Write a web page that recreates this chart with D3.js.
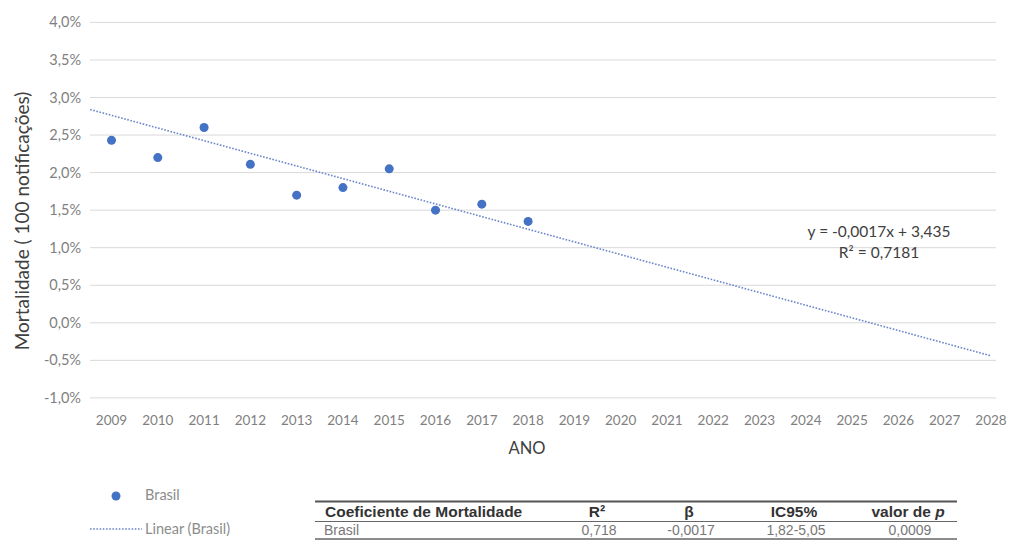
<!DOCTYPE html>
<html>
<head>
<meta charset="utf-8">
<script src="https://cdn.jsdelivr.net/npm/d3@7"></script>
<style>
  html, body { margin: 0; padding: 0; background: #fff; }
  svg { display: block; }
</style>
</head>
<body>
<svg id="chart" width="1011" height="540"></svg>
<script>
// ---- data ----
const years = [2009, 2010, 2011, 2012, 2013, 2014, 2015, 2016, 2017, 2018];
const mortality = [2.43, 2.20, 2.60, 2.11, 1.70, 1.80, 2.05, 1.50, 1.58, 1.35]; // %
const xTickLabels = [2009,2010,2011,2012,2013,2014,2015,2016,2017,2018,2019,2020,2021,2022,2023,2024,2025,2026,2027,2028];
const yTickValues = [-1.0,-0.5,0.0,0.5,1.0,1.5,2.0,2.5,3.0,3.5,4.0];
const trendYears = [2008.54, 2028];
const trendValues = [2.84, -0.44];
const equationLines = ["y = -0,0017x + 3,435", "R² = 0,7181"];
const tableHeader = ["Coeficiente de Mortalidade", "R²", "β", "IC95%", "valor de p"];
const tableRow = ["Brasil", "0,718", "-0,0017", "1,82-5,05", "0,0009"];

// ---- chart ----
const svg = d3.select("#chart");
const blue = "#4472C4";
const font = "Lato, 'Open Sans', sans-serif";

const x = d3.scaleLinear().domain([2009, 2028]).range([111.5, 991]);
const y = d3.scaleLinear().domain([-1, 4]).range([397.9, 22.4]);
const gridLeft = 90, gridRight = 996;

// gridlines
svg.append("g").selectAll("line").data(yTickValues).join("line")
  .attr("x1", gridLeft).attr("x2", gridRight)
  .attr("y1", d => y(d)).attr("y2", d => y(d))
  .attr("stroke", "#d9d9d9").attr("stroke-width", 1);

// y axis labels
const fmtPct = d => d3.format(".1f")(d).replace(".", ",").replace("−", "-") + "%";
svg.append("g").selectAll("text").data(yTickValues).join("text")
  .attr("x", 81).attr("y", d => y(d)).attr("dy", "0.35em")
  .attr("text-anchor", "end")
  .attr("font-family", font).attr("font-size", 14.5).attr("fill", "#7f7f7f")
  .text(fmtPct);

// x axis labels
svg.append("g").selectAll("text").data(xTickLabels).join("text")
  .attr("x", d => x(d)).attr("y", 425)
  .attr("text-anchor", "middle")
  .attr("font-family", font).attr("font-size", 13.5).attr("fill", "#7f7f7f")
  .text(d => d);

// axis titles
svg.append("text")
  .attr("x", 527).attr("y", 454)
  .attr("text-anchor", "middle")
  .attr("font-family", font).attr("font-size", 16.5).attr("fill", "#404040")
  .text("ANO");

svg.append("text")
  .attr("transform", "translate(29,221) rotate(-90)")
  .attr("text-anchor", "middle")
  .attr("font-family", font).attr("font-size", 19).attr("fill", "#404040")
  .text("Mortalidade ( 100 notificações)");

// trendline
svg.append("line")
  .attr("x1", x(trendYears[0])).attr("y1", y(trendValues[0]))
  .attr("x2", x(trendYears[1])).attr("y2", y(trendValues[1]))
  .attr("stroke", "#6a86c8").attr("stroke-width", 1.6)
  .attr("stroke-dasharray", "1.6,1.6");

// points
svg.append("g").selectAll("circle").data(years.map((yr, i) => [yr, mortality[i]])).join("circle")
  .attr("cx", d => x(d[0])).attr("cy", d => y(d[1]))
  .attr("r", 4.5).attr("fill", blue);

// equation
svg.append("g").selectAll("text").data(equationLines).join("text")
  .attr("x", 879).attr("y", (d, i) => 237 + i * 21)
  .attr("text-anchor", "middle")
  .attr("font-family", font).attr("font-size", 15.5).attr("fill", "#404040")
  .text(d => d);

// legend
svg.append("circle").attr("cx", 116).attr("cy", 496).attr("r", 4.5).attr("fill", blue);
svg.append("text").attr("x", 145).attr("y", 500)
  .attr("font-family", font).attr("font-size", 14.5).attr("fill", "#8c8c8c").text("Brasil");
svg.append("line").attr("x1", 90).attr("x2", 142).attr("y1", 529).attr("y2", 529)
  .attr("stroke", "#6a86c8").attr("stroke-width", 1.4).attr("stroke-dasharray", "1.6,1.6");
svg.append("text").attr("x", 145).attr("y", 534)
  .attr("font-family", font).attr("font-size", 14.5).attr("fill", "#8c8c8c").text("Linear (Brasil)");

// table
const tFont = "'Liberation Sans', Arial, sans-serif";
const tLeft = 315, tRight = 957;
const colX = [325, 597, 689, 794, 908];
svg.append("line").attr("x1", tLeft).attr("x2", tRight).attr("y1", 501.5).attr("y2", 501.5)
  .attr("stroke", "#555").attr("stroke-width", 2);
svg.append("line").attr("x1", tLeft).attr("x2", tRight).attr("y1", 521.5).attr("y2", 521.5)
  .attr("stroke", "#666").attr("stroke-width", 1.2);
svg.append("line").attr("x1", tLeft).attr("x2", tRight).attr("y1", 539).attr("y2", 539)
  .attr("stroke", "#666").attr("stroke-width", 1.5);

svg.append("g").selectAll("text").data(tableHeader).join("text")
  .attr("x", (d, i) => colX[i]).attr("y", 517)
  .attr("text-anchor", (d, i) => i === 0 ? "start" : "middle")
  .attr("font-family", tFont).attr("font-size", 15.5).attr("font-weight", "bold").attr("fill", "#333")
  .each(function(d, i) {
    const t = d3.select(this);
    if (i === 4) {
      t.append("tspan").text("valor de ");
      t.append("tspan").attr("font-style", "italic").text("p");
    } else t.text(d);
  });
svg.append("g").selectAll("text").data(tableRow).join("text")
  .attr("x", (d, i) => i === 0 ? colX[0] - 1 : colX[i] + 2).attr("y", 535)
  .attr("text-anchor", (d, i) => i === 0 ? "start" : "middle")
  .attr("font-family", tFont).attr("font-size", 14).attr("fill", "#777")
  .text(d => d);
</script>
</body>
</html>
